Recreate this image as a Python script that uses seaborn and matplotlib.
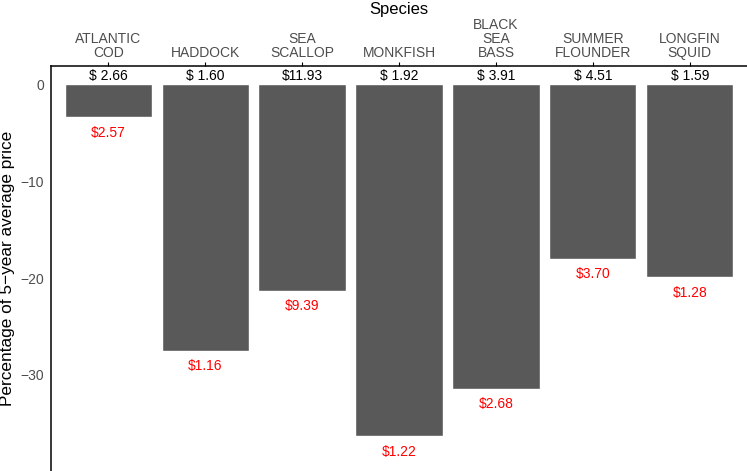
import matplotlib
matplotlib.use('Agg')
import matplotlib.pyplot as plt
import numpy as np
import pandas as pd
import seaborn as sns

species = ['ATLANTIC\nCOD', 'HADDOCK', 'SEA\nSCALLOP', 'MONKFISH',
           'BLACK\nSEA\nBASS', 'SUMMER\nFLOUNDER', 'LONGFIN\nSQUID']
pct_change = [-3.4, -27.5, -21.3, -36.3, -31.4, -18.0, -19.9]
avg_price = ['$ 2.66', '$ 1.60', '$11.93', '$ 1.92', '$ 3.91', '$ 4.51', '$ 1.59']
cur_price = ['$2.57', '$1.16', '$9.39', '$1.22', '$2.68', '$3.70', '$1.28']

sns.set_style('white')
plt.rcParams['font.family'] = ['Liberation Sans', 'DejaVu Sans']

df = pd.DataFrame({'species': species, 'pct': pct_change})

fig = plt.figure(figsize=(7.47, 4.71), dpi=100)
ax = fig.add_axes([51 / 747, 0, 1 - 51 / 747, 405 / 471])

sns.barplot(data=df, x='species', y='pct', color='#595959', saturation=1,
            width=0.9, ax=ax)

# black = 5-year average price, red = current price under each bar
for i, (v, a, c) in enumerate(zip(pct_change, avg_price, cur_price)):
    ax.text(i, 0.85, a, ha='center', va='center', fontsize=10, color='black')
    ax.text(i, v - 1.6, c, ha='center', va='center', fontsize=10, color='red')

ax.set_xlim(-0.59, 6.59)
ax.set_ylim(-39.9, 1.86)
ax.set_yticks([0, -10, -20, -30])
ax.xaxis.tick_top()
ax.xaxis.set_label_position('top')
ax.tick_params(axis='x', colors='#4d4d4d', labelsize=10, length=3, pad=1)
ax.tick_params(axis='y', colors='#4d4d4d', labelsize=10, length=3, pad=2)
for lab in ax.get_xticklabels():
    lab.set_linespacing(1.0)
ax.tick_params(axis='both', color='black')
ax.set_xlabel('Species', fontsize=12, color='black', labelpad=3)
ax.set_ylabel('Percentage of 5\u2212year average price', fontsize=12.4, color='black', labelpad=4)

for s in ['right', 'bottom']:
    ax.spines[s].set_visible(False)
for s in ['left', 'top']:
    ax.spines[s].set_color('black')
    ax.spines[s].set_linewidth(1.1)

fig.savefig('out.png', dpi=100)
